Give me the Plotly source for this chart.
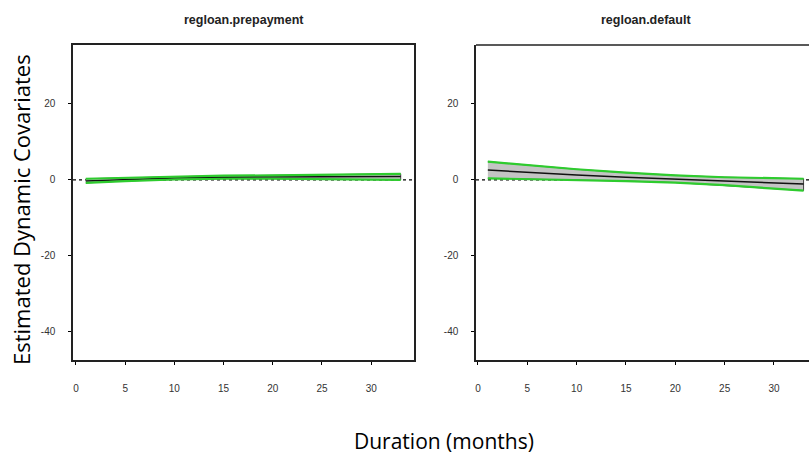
import plotly.graph_objects as go

duration = [1, 5, 10, 15, 20, 25, 30, 33]

prepay_est = [-0.3, 0.1, 0.5, 0.7, 0.8, 0.9, 0.9, 0.9]
prepay_lower = [-0.8, -0.3, 0.1, 0.3, 0.3, 0.2, 0.1, 0.0]
prepay_upper = [0.3, 0.5, 0.9, 1.1, 1.2, 1.4, 1.5, 1.6]

default_est = [2.6, 2.0, 1.3, 0.7, 0.2, -0.3, -0.8, -1.1]
default_lower = [0.4, 0.2, 0.0, -0.3, -0.7, -1.4, -2.3, -2.8]
default_upper = [4.8, 3.9, 2.8, 1.9, 1.2, 0.7, 0.4, 0.3]

panel_titles = ["regloan.prepayment", "regloan.default"]
x_ticks = [0, 5, 10, 15, 20, 25, 30]
y_ticks = [-40, -20, 0, 20]
y_tick_labels = ["-40", "-20", "0", "20"]

W, H = 809, 456
fig = go.Figure()

panels = [
    (prepay_est, prepay_lower, prepay_upper, "x", "y"),
    (default_est, default_lower, default_upper, "x2", "y2"),
]
for est, lo, up, xa, ya in panels:
    fig.add_trace(go.Scatter(
        x=duration + duration[::-1], y=up + lo[::-1], fill="toself",
        fillcolor="#c4c4c4", line=dict(color="#444444", width=1),
        mode="lines", xaxis=xa, yaxis=ya, showlegend=False, hoverinfo="skip"))
    fig.add_trace(go.Scatter(x=duration, y=est, mode="lines",
                             line=dict(color="#111111", width=1.5),
                             xaxis=xa, yaxis=ya, showlegend=False))
    for b in (lo, up):
        fig.add_trace(go.Scatter(x=duration, y=b, mode="lines",
                                 line=dict(color="#2ecc2e", width=2.2),
                                 xaxis=xa, yaxis=ya, showlegend=False))

tickfont = dict(family="Arial", size=10, color="#333333")
common_x = dict(tickvals=x_ticks, ticks="outside", ticklen=3, tickcolor="black",
                tickfont=tickfont, showgrid=False, zeroline=False,
                showline=True, linecolor="#222222", linewidth=1.5,
                ticklabelstandoff=15)
common_y = dict(tickvals=y_ticks, ticktext=y_tick_labels, ticks="outside", ticklen=3,
                tickcolor="black", tickfont=tickfont, showgrid=False, zeroline=False,
                showline=True, linecolor="#222222", linewidth=1.5,
                range=[-47.4, 35.5], domain=[1 - 360 / H, 1 - 45 / H],
                ticklabelstandoff=11)

fig.update_layout(
    width=W, height=H, margin=dict(l=0, r=0, t=0, b=0),
    paper_bgcolor="white", plot_bgcolor="white",
    xaxis=dict(common_x, domain=[73 / W, 414 / W], range=[-0.3, 34.35],
               anchor="y", mirror=True),
    yaxis=dict(common_y, anchor="x", mirror=True),
    xaxis2=dict(common_x, domain=[476 / W, 1.0], range=[-0.2, 33.55],
                anchor="y2", mirror=False),
    yaxis2=dict(common_y, anchor="x2", mirror=False),
)

# dotted zero lines and top border of clipped right panel
for xr, yr in (("x domain", "y"), ("x2 domain", "y2")):
    fig.add_shape(type="line", xref=xr, yref=yr, x0=0, x1=1, y0=0, y1=0,
                  line=dict(color="black", width=1.2, dash="dot"), layer="below")
fig.add_shape(type="line", xref="x2 domain", yref="y2 domain", x0=0, x1=1, y0=1, y1=1,
              line=dict(color="#222222", width=1.5))

centers = [(73 + 414) / 2 / W, (476 + 816) / 2 / W]
for t, cx in zip(panel_titles, centers):
    fig.add_annotation(text="<b>" + t + "</b>", x=cx, y=1 - 20 / H, xref="paper", yref="paper",
                       xanchor="center", yanchor="middle", showarrow=False,
                       font=dict(family="Arial", size=12.5, color="#222222"))

fig.add_annotation(text="Estimated Dynamic Covariates", textangle=-90,
                   x=21 / W, y=1 - 210 / H, xref="paper", yref="paper", showarrow=False,
                   xanchor="center", yanchor="middle",
                   font=dict(family="Open Sans", size=22, color="black"))
fig.add_annotation(text="Duration (months)", x=444 / W, y=1 - 441 / H,
                   xref="paper", yref="paper", showarrow=False,
                   xanchor="center", yanchor="middle",
                   font=dict(family="Open Sans", size=21, color="black"))

fig.write_html("out.html")
